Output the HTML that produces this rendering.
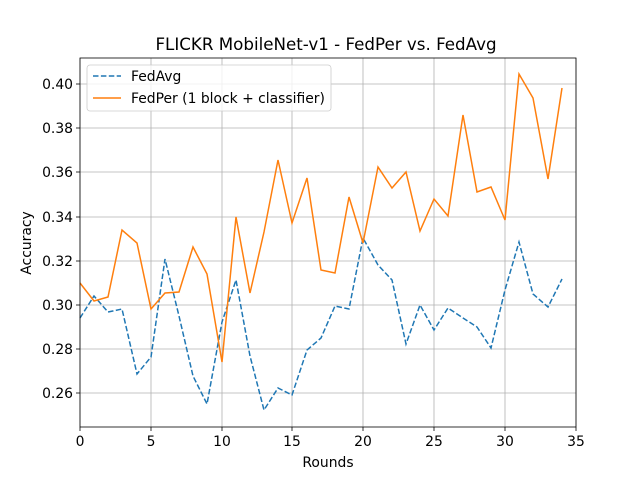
<!DOCTYPE html>
<html><head><meta charset="utf-8"><style>body{margin:0;background:#fff}svg{display:block}text{font-family:"DejaVu Sans","Liberation Sans",sans-serif;fill:#000}</style></head><body>
<svg width="640" height="480" viewBox="0 0 640 480" xmlns="http://www.w3.org/2000/svg">
<rect width="640" height="480" fill="#fff"/>
<g stroke="#b0b0b0" stroke-width="0.8">
<line x1="80" y1="58" x2="80" y2="427"/><line x1="151" y1="58" x2="151" y2="427"/><line x1="222" y1="58" x2="222" y2="427"/><line x1="292" y1="58" x2="292" y2="427"/><line x1="363" y1="58" x2="363" y2="427"/><line x1="434" y1="58" x2="434" y2="427"/><line x1="505" y1="58" x2="505" y2="427"/><line x1="576" y1="58" x2="576" y2="427"/>
<line x1="80" y1="393" x2="576" y2="393"/><line x1="80" y1="349" x2="576" y2="349"/><line x1="80" y1="305" x2="576" y2="305"/><line x1="80" y1="261" x2="576" y2="261"/><line x1="80" y1="217" x2="576" y2="217"/><line x1="80" y1="172" x2="576" y2="172"/><line x1="80" y1="128" x2="576" y2="128"/><line x1="80" y1="84" x2="576" y2="84"/>
</g>
<polyline fill="none" stroke="#1f77b4" stroke-width="1.5" stroke-dasharray="5.5,2.4" points="80,318 94,296 108,312 122,309 137,374 151,357 165,259 179,316 193,376 207,404 222,322 236,280 250,356 264,410 278,388 292,395 307,350 321,338 335,306 349,309 363,238 378,265 392,280 406,344 420,305 434,330 448,308 463,318 477,327 491,348 505,290 519,242 533,294 548,307 562,279"/>
<polyline fill="none" stroke="#ff7f0e" stroke-width="1.5" points="80,283 94,301 108,297 122,230 137,243 151,309 165,293 179,292 193,247 207,274 222,362 236,217 250,293 264,232 278,160 292,223 307,178 321,270 335,273 349,197 363,243 378,167 392,188 406,172 420,231 434,199 448,216 463,115 477,192 491,187 505,220 519,74 533,98 548,179 562,88"/>
<rect x="80" y="58" width="496" height="369" fill="none" stroke="#000" stroke-width="0.8"/>
<g stroke="#000" stroke-width="0.8">
<line x1="80" y1="427" x2="80" y2="431"/><line x1="151" y1="427" x2="151" y2="431"/><line x1="222" y1="427" x2="222" y2="431"/><line x1="292" y1="427" x2="292" y2="431"/><line x1="363" y1="427" x2="363" y2="431"/><line x1="434" y1="427" x2="434" y2="431"/><line x1="505" y1="427" x2="505" y2="431"/><line x1="576" y1="427" x2="576" y2="431"/>
<line x1="76" y1="393" x2="80" y2="393"/><line x1="76" y1="349" x2="80" y2="349"/><line x1="76" y1="305" x2="80" y2="305"/><line x1="76" y1="261" x2="80" y2="261"/><line x1="76" y1="217" x2="80" y2="217"/><line x1="76" y1="172" x2="80" y2="172"/><line x1="76" y1="128" x2="80" y2="128"/><line x1="76" y1="84" x2="80" y2="84"/>
</g>
<g font-size="13.9" text-anchor="middle">
<text x="80" y="446">0</text><text x="151" y="446">5</text><text x="222" y="446">10</text><text x="292" y="446">15</text><text x="363" y="446">20</text><text x="434" y="446">25</text><text x="505" y="446">30</text><text x="576" y="446">35</text>
</g>
<g font-size="13.9" text-anchor="end">
<text x="73" y="398">0.26</text><text x="73" y="354">0.28</text><text x="73" y="310">0.30</text><text x="73" y="266">0.32</text><text x="73" y="222">0.34</text><text x="73" y="177">0.36</text><text x="73" y="133">0.38</text><text x="73" y="89">0.40</text>
</g>
<text x="328" y="467" font-size="13.9" text-anchor="middle">Rounds</text>
<text x="31" y="243" font-size="13.9" text-anchor="middle" transform="rotate(-90 31 243)">Accuracy</text>
<text x="326" y="50" font-size="16.7" text-anchor="middle">FLICKR MobileNet-v1 - FedPer vs. FedAvg</text>
<rect x="87" y="65" width="244" height="46" rx="3" fill="#fff" fill-opacity="0.8" stroke="#ccc" stroke-width="0.8"/>
<line x1="93" y1="76" x2="121" y2="76" stroke="#1f77b4" stroke-width="1.5" stroke-dasharray="5.5,2.4"/>
<line x1="93" y1="98" x2="121" y2="98" stroke="#ff7f0e" stroke-width="1.5"/>
<text x="131" y="81" font-size="13.9">FedAvg</text>
<text x="131" y="103" font-size="13.9">FedPer (1 block + classifier)</text>
</svg>
</body></html>
